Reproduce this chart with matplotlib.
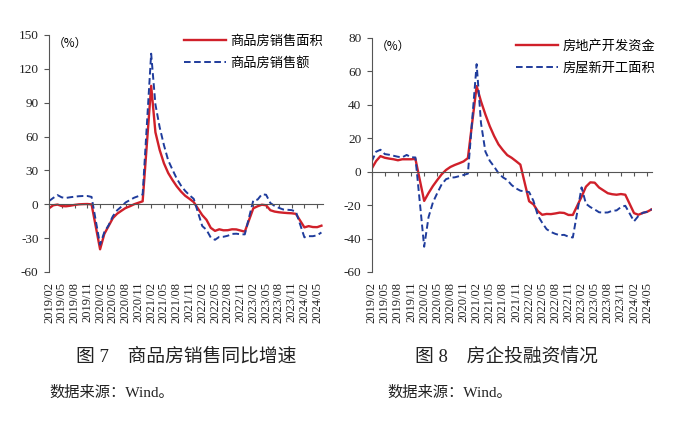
import matplotlib
matplotlib.use('Agg')
import matplotlib.pyplot as plt

plt.rcParams['font.family'] = ['Liberation Serif', 'Noto Sans CJK SC']
plt.rcParams['axes.unicode_minus'] = False

# ---- data (cumulative YoY %, Jan-Feb reported as Feb) ----
periods = [f"{y}/{m:02d}" for y in range(2019, 2025) for m in range(2, 13)
           if not (y == 2024 and m > 6)]

sales_area = [-3.6, -0.9, -0.3, -1.6, -1.8, -1.3, -0.6, -0.1, 0.1, 0.2, -0.1,
              -39.9, -26.3, -19.3, -12.3, -8.4, -5.8, -3.3, -1.8, 0.0, 1.3, 2.6,
              104.9, 63.8, 48.1, 36.3, 27.7, 21.5, 15.9, 11.3, 7.5, 4.8, 1.9,
              -9.6, -13.8, -20.9, -23.6, -22.2, -23.1, -23.0, -22.2, -22.3, -23.3, -24.3,
              -3.6, -1.8, -0.4, -0.9, -5.3, -6.5, -7.1, -7.5, -7.8, -8.0, -8.5,
              -20.5, -19.4, -20.2, -20.3, -19.0]
sales_amount = [2.8, 5.6, 8.1, 6.1, 5.6, 6.2, 6.7, 7.1, 7.3, 7.3, 6.5,
                -35.9, -24.7, -18.6, -10.6, -5.4, -2.1, 1.6, 3.7, 5.8, 7.2, 8.7,
                133.4, 88.5, 68.2, 52.4, 38.9, 30.7, 22.8, 16.6, 11.8, 8.0, 4.8,
                -19.3, -22.7, -29.5, -31.5, -28.9, -28.8, -27.9, -26.3, -26.1, -26.6, -26.7,
                3.5, 4.1, 8.8, 8.4, 1.1, -1.5, -3.2, -4.6, -4.9, -5.2, -6.5,
                -29.3, -28.3, -28.3, -27.5, -25.0]
dev_funds = [1.8, 6.3, 9.3, 8.3, 7.8, 7.4, 6.8, 7.4, 7.4, 7.4, 7.6,
             -17.5, -12.8, -8.6, -5.0, -1.6, 1.0, 2.8, 4.0, 5.0, 6.1, 8.1,
             51.2, 42.0, 34.2, 27.2, 21.3, 16.3, 12.9, 9.9, 8.3, 6.3, 4.2,
             -17.7, -19.6, -23.6, -25.8, -25.3, -25.4, -25.0, -24.5, -24.7, -25.9, -25.9,
             -15.0, -9.0, -6.4, -6.6, -9.5, -11.2, -12.9, -13.5, -13.8, -13.4, -13.8,
             -24.8, -25.8, -24.7, -24.0, -22.6]
new_start = [6.0, 11.9, 13.1, 10.5, 10.1, 9.5, 8.9, 8.6, 10.0, 8.6, 8.5,
             -44.9, -27.2, -18.4, -12.8, -7.6, -4.5, -3.6, -3.4, -2.7, -2.0, -1.2,
             64.3, 29.0, 12.0, 6.5, 3.0, -0.9, -3.4, -5.0, -8.0, -10.0, -11.4,
             -12.2, -17.5, -26.3, -30.6, -34.4, -36.1, -37.2, -38.0, -37.8, -38.9, -39.4,
             -9.4, -19.2, -21.2, -22.6, -24.3, -24.5, -24.4, -23.4, -23.2, -21.2, -20.4,
             -29.7, -26.5, -24.6, -24.0, -22.5]

tick_labels = [f"{y}/{m:02d}" for y in range(2019, 2025) for m in (2, 5, 8, 11)][:22]


def month_index(p):
    return (int(p[:4]) - 2019) * 12 + int(p[5:]) - 2


x = [month_index(p) for p in periods]
tick_pos = [month_index(p) for p in tick_labels]

RED = '#d0202a'
BLUE = '#1f3c9c'

fig = plt.figure(figsize=(7.0, 4.21), dpi=100)


def draw(rect, red, blue, red_label, blue_label, ylim, yticks, xmax, leg_anchor):
    ax = fig.add_axes(rect)
    ax.plot(x, red, color=RED, lw=1.7, label=red_label, solid_joinstyle='round')
    ax.plot(x, blue, color=BLUE, lw=1.4, ls=(0, (3.4, 1.8)), label=blue_label)
    ax.set_xlim(0, xmax)
    ax.set_ylim(*ylim)
    ax.set_yticks(yticks)
    ax.spines['top'].set_visible(False)
    ax.spines['right'].set_visible(False)
    ax.spines['bottom'].set_position(('data', 0))
    for s in ('left', 'bottom'):
        ax.spines[s].set_color('#555555')
        ax.spines[s].set_linewidth(0.8)
    ax.set_xticks(tick_pos)
    ax.tick_params(axis='x', direction='out', length=3, width=0.8,
                   color='#555555', labelbottom=False)
    ax.tick_params(axis='y', direction='out', length=3.5, width=0.8,
                   color='#555555', labelsize=9.5, pad=4, labelcolor='#222222')
    sec = ax.secondary_xaxis(0)
    sec.set_xticks(tick_pos, labels=tick_labels, rotation=90)
    sec.tick_params(length=0, pad=7, labelsize=9, labelcolor='#222222')
    sec.spines['bottom'].set_visible(False)
    ax.text(0.015, 0.965, '（%）', transform=ax.transAxes, fontsize=8.5,
            ha='left', va='center', family=['Noto Sans CJK SC'])
    ax.legend(loc='upper right', bbox_to_anchor=leg_anchor, frameon=False,
              fontsize=9.5, handlelength=3.2, handletextpad=0.3,
              labelspacing=0.7, borderaxespad=0, borderpad=0)
    return ax


draw([0.070, 0.354, 0.391, 0.563], sales_area, sales_amount,
     '商品房销售面积', '商品房销售额', (-60, 150), range(-60, 151, 30), 64.3,
     (1.0, 1.0))
draw([0.531, 0.354, 0.401, 0.556], dev_funds, new_start,
     '房地产开发资金', '房屋新开工面积', (-60, 80), range(-60, 81, 20), 64.2,
     (1.01, 0.99))

fig.text(0.266, 0.152, '图 7　商品房销售同比增速', ha='center', va='center',
         fontsize=13.5, color='#222222')
fig.text(0.724, 0.152, '图 8　房企投融资情况', ha='center', va='center',
         fontsize=13.5, color='#222222')
fig.text(0.071, 0.068, '数据来源：Wind。', ha='left', va='center',
         fontsize=11, color='#222222')
fig.text(0.553, 0.068, '数据来源：Wind。', ha='left', va='center',
         fontsize=11, color='#222222')

fig.savefig('out.png', dpi=100, facecolor='white')
